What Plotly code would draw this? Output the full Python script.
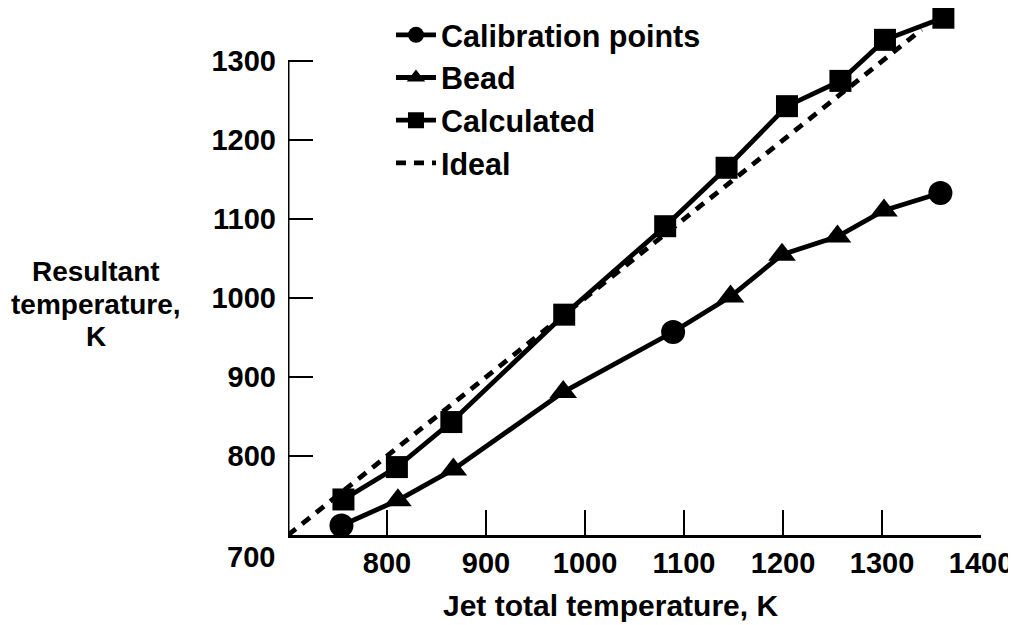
import plotly.graph_objects as go

# ---- data ----
calib_x = [754, 1089, 1359]
calib_y = [712, 957, 1133]
bead_x = [811, 867, 978, 1147, 1199, 1255, 1302]
bead_y = [744, 783, 881, 1002, 1055, 1078, 1111]
calc_x = [756, 810, 865, 979, 1081, 1143, 1204, 1258, 1303, 1362]
calc_y = [745, 786, 843, 979, 1091, 1165, 1243, 1275, 1327, 1355]
ideal_x = [700, 1340]
ideal_y = [700, 1340]
x_ticks = [800, 900, 1000, 1100, 1200, 1300, 1400]
y_ticks = [800, 900, 1000, 1100, 1200, 1300]
origin_label = "700"
x_title = "Jet total temperature, K"
y_title_lines = ["Resultant", "temperature,", "K"]

FONT = "Liberation Sans"
BLACK = "black"
LW = 4.8

# Bead path runs through bead and calibration points in order of x
path = sorted(zip(calib_x + bead_x, calib_y + bead_y))
path_x = [p[0] for p in path]
path_y = [p[1] for p in path]


def gapped(vals):
    out = []
    for v in vals:
        out += [v, None]
    return out[:-1]


fig = go.Figure()

fig.add_trace(go.Scatter(
    x=ideal_x, y=ideal_y, mode="lines", name="Ideal", legendrank=4,
    line=dict(color=BLACK, width=LW, dash="10px,8px")))

fig.add_trace(go.Scatter(
    x=path_x, y=path_y, mode="lines", showlegend=False,
    line=dict(color=BLACK, width=LW)))

fig.add_trace(go.Scatter(
    x=gapped(bead_x), y=gapped(bead_y), mode="lines+markers", name="Bead",
    legendrank=2, connectgaps=False,
    line=dict(color=BLACK, width=LW),
    marker=dict(symbol="triangle-up", size=24, color=BLACK)))

fig.add_trace(go.Scatter(
    x=gapped(calib_x), y=gapped(calib_y), mode="lines+markers",
    name="Calibration points", legendrank=1, connectgaps=False,
    line=dict(color=BLACK, width=LW),
    marker=dict(symbol="circle", size=24, color=BLACK)))

fig.add_trace(go.Scatter(
    x=calc_x, y=calc_y, mode="lines+markers", name="Calculated",
    legendrank=3,
    line=dict(color=BLACK, width=LW),
    marker=dict(symbol="square", size=22, color=BLACK)))

axis_common = dict(
    showgrid=False, zeroline=False, ticks="inside", ticklen=25,
    tickwidth=2, tickcolor=BLACK, automargin=False,
    tickfont=dict(family=FONT, size=29, color=BLACK, weight="bold"))

fig.update_xaxes(range=[700, 1400], tickvals=x_ticks,
                 showline=True, linecolor=BLACK, linewidth=3, **axis_common)
fig.update_yaxes(range=[700, 1367.3], tickvals=y_ticks,
                 showline=False, ticklabelstandoff=11, **axis_common)

# y axis line stops at the top tick, as in the reference
fig.add_shape(type="line", xref="x", yref="y",
              x0=x_ticks[0] - 100, x1=x_ticks[0] - 100,
              y0=ideal_y[0], y1=y_ticks[-1],
              line=dict(color=BLACK, width=3))

fig.add_annotation(text=origin_label, xref="x", yref="y",
                   x=ideal_x[0], y=ideal_y[0], xanchor="right", yanchor="top",
                   xshift=-11, yshift=-4, showarrow=False,
                   font=dict(family=FONT, size=29, color=BLACK, weight="bold"))

# plot area spans page y 8..535 (527 px)
for line_text, ypos in zip(y_title_lines, [0.500, 0.437, 0.376]):
    fig.add_annotation(text=line_text, xref="paper", yref="paper",
                       x=-0.277, y=ypos, xanchor="center", yanchor="middle",
                       showarrow=False,
                       font=dict(family=FONT, size=28, color=BLACK,
                                 weight="bold"))

fig.add_annotation(text=x_title, xref="paper", yref="paper",
                   x=0.466, y=-0.133, xanchor="center", yanchor="middle",
                   showarrow=False,
                   font=dict(family=FONT, size=30, color=BLACK, weight="bold"))

fig.update_layout(
    width=1008, height=617,
    margin=dict(l=280, r=35, t=0, b=90),
    paper_bgcolor="white", plot_bgcolor="white",
    font=dict(family=FONT, color=BLACK),
    legend=dict(x=0.1486, y=0.999, xanchor="left", yanchor="top",
                bgcolor="rgba(0,0,0,0)",
                font=dict(family=FONT, size=30.5, color=BLACK, weight="bold"),
                itemwidth=40, tracegroupgap=0),
)

fig.write_html("out.html")
